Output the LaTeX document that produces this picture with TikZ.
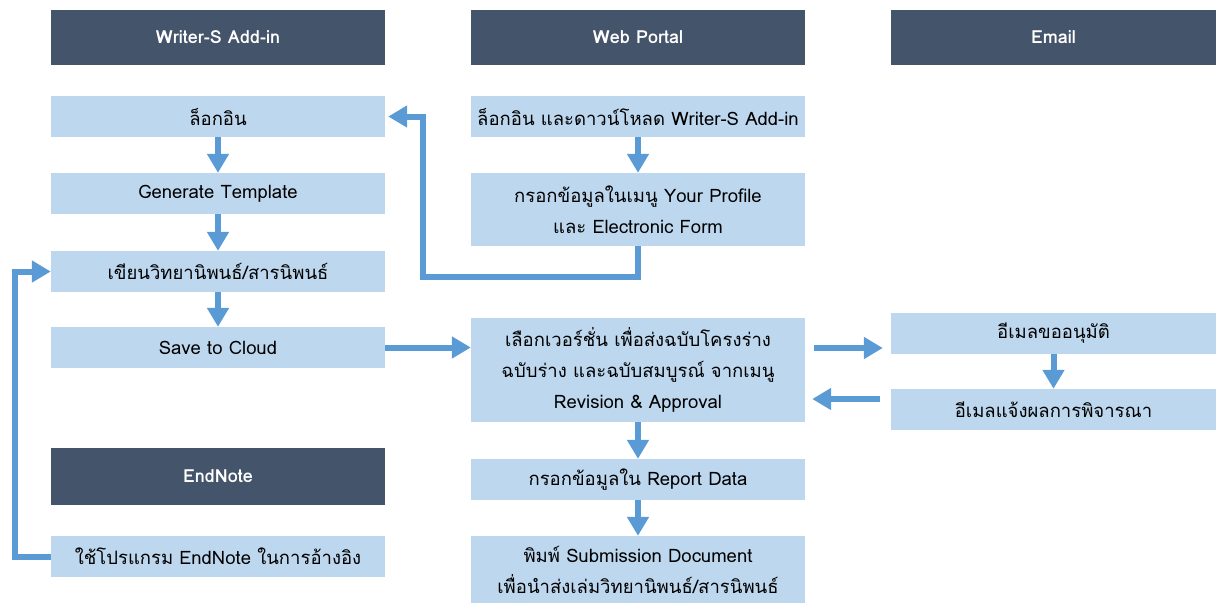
\documentclass[tikz,border=0pt]{standalone}
\usepackage{fontspec}
\setmainfont[Script=Thai]{Loma}
\usepackage{tikz}
\usetikzlibrary{arrows.meta}

\definecolor{hdrgray}{HTML}{44546A}
\definecolor{boxblue}{HTML}{BDD7EE}
\definecolor{flowblue}{HTML}{5B9BD5}

\tikzset{
  hdr/.style={fill=hdrgray, text=white, minimum width=334pt, minimum height=55pt,
    font=\fontsize{18}{22}\selectfont\bfseries, inner sep=0pt},
  stepbox/.style={fill=boxblue, minimum width=334pt, minimum height=41pt, align=center,
    font=\fontsize{18.5}{31}\selectfont, inner sep=0pt},
  flow/.style={draw=flowblue, line width=6pt, -{Triangle[length=19pt,width=21pt]}}
}

\begin{document}
\begin{tikzpicture}[x=1pt,y=-1pt]
	\useasboundingbox (0,0) rectangle (1216,603);
	% column headers
	\node (hA) [hdr] at (218,37.5) {Writer-S Add-in};
	\node (hW) [hdr] at (638,37.5) {Web Portal};
	\node (hE) [hdr, minimum width=325pt] at (1053.5,37.5) {Email};
	\node (hN) [hdr, minimum height=57pt] at (218,476.5) {EndNote};

	% add-in steps
	\node (login) [stepbox] at (218,116.5) {ล็อกอิน};
	\node (gen) [stepbox] at (218,193.5) {Generate Template};
	\node (write) [stepbox] at (218,271.5) {เขียนวิทยานิพนธ์/สารนิพนธ์};
	\node (save) [stepbox] at (218,347.5) {Save to Cloud};
	\node (endn) [stepbox] at (218,556.5) {ใช้โปรแกรม EndNote ในการอ้างอิง};

	% portal steps
	\node (wdl) [stepbox] at (638,116.5) {ล็อกอิน และดาวน์โหลด Writer-S Add-in};
	\node (prof) [stepbox, minimum height=73pt] at (638,209.5) {กรอกข้อมูลในเมนู Your Profile\\และ Electronic Form};
	\node (rev) [stepbox, minimum height=104pt] at (638,370) {เลือกเวอร์ชั่น เพื่อส่งฉบับโครงร่าง\\ฉบับร่าง และฉบับสมบูรณ์ จากเมนู\\Revision \& Approval};
	\node (rep) [stepbox] at (638,479.5) {กรอกข้อมูลใน Report Data};
	\node (sub) [stepbox, minimum height=67pt] at (638,569.5) {พิมพ์ Submission Document\\เพื่อนำส่งเล่มวิทยานิพนธ์/สารนิพนธ์};

	% email steps
	\node (eask) [stepbox, minimum width=325pt] at (1053.5,333.5) {อีเมลขออนุมัติ};
	\node (eres) [stepbox, minimum width=325pt] at (1053.5,409.5) {อีเมลแจ้งผลการพิจารณา};

	\coordinate (bendW) at (423,277);
	\coordinate (bendN) at (15,400);

	\draw[flow] (login.south) -- (gen.north);
	\draw[flow] (gen.south) -- (write.north);
	\draw[flow] (write.south) -- (save.north);
	\draw[flow] (wdl.south) -- (prof.north);
	\draw[flow] (rev.south) -- (rep.north);
	\draw[flow] (rep.south) -- (sub.north);
	\draw[flow] (eask.south) -- (eres.north);
	\draw[flow] (prof.south) |- (bendW) |- ([xshift=3pt]login.east);
	\draw[flow] (endn.west) -| (bendN) |- (write.west);
	\draw[flow] (save.east) -- (save.east -| rev.west);
	\draw[flow] ([xshift=9pt,yshift=22pt]rev.east) -- ([xshift=-8pt,yshift=-14.5pt]eask.west);
	\draw[flow] ([xshift=-11pt,yshift=10.5pt]eres.west) -- ([xshift=7pt,yshift=-29pt]rev.east);
\end{tikzpicture}
\end{document}
